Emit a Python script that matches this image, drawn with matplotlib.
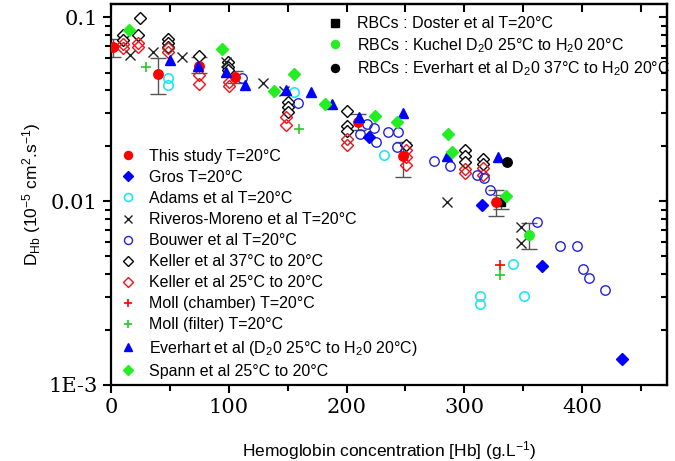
import numpy as np
import matplotlib
matplotlib.use("Agg")
import matplotlib.pyplot as plt
from matplotlib.ticker import FixedLocator, FixedFormatter, LogLocator, NullFormatter, MultipleLocator

# Datos (x en g/L, y en 1e-5 cm2/s)
este_x = [2, 40, 75, 105, 210, 248, 327]
este_y = [0.0687, 0.0489, 0.0541, 0.0475, 0.0268, 0.0175, 0.0099]
este_lo = [0.0605, 0.038, 0.0495, 0.044, 0.0243, 0.0136, 0.00834]
este_hi = [0.0759, 0.0598, 0.0605, 0.051, 0.0296, 0.0209, 0.01156]

gros_x = [219, 315, 366, 434]
gros_y = [0.0222, 0.00957, 0.00446, 0.00139]

adams_x = [48.6, 48.6, 155.5, 232, 313.5, 313.5, 341.6, 351]
adams_y = [0.0466, 0.0426, 0.039, 0.0179, 0.00305, 0.00276, 0.00457, 0.00305]

riveros_x = [16, 36, 60, 98, 129, 147, 285.5, 348, 348]
riveros_y = [0.062, 0.0644, 0.0605, 0.0569, 0.0437, 0.0395, 0.00985, 0.0072, 0.00589]

bouwer_x = [111, 159, 217, 223, 211.6, 225, 235, 243.6, 242.7, 274.4,
            287.5, 310.7, 317, 322, 361.7, 381.5, 395.6, 400.4, 406, 419.7]
bouwer_y = [0.0469, 0.034, 0.0264, 0.0249, 0.0232, 0.0209, 0.0239, 0.0239, 0.0196, 0.0166,
            0.0156, 0.0138, 0.0134, 0.01156, 0.00773, 0.00571, 0.00571, 0.0043, 0.0038, 0.0033]

keller37_x = [10, 10, 23, 25, 48.6, 48.6, 48.6, 75, 99, 99, 99, 150, 150, 150,
              200, 200, 200, 250.6, 300.8, 300.8, 300.8, 315.5, 315.5]
keller37_y = [0.0805, 0.075, 0.0798, 0.0996, 0.0766, 0.0728, 0.0689, 0.0616, 0.0569, 0.0537,
              0.0514, 0.0345, 0.0325, 0.0305, 0.0308, 0.0255, 0.0242, 0.0202, 0.019, 0.0177,
              0.0163, 0.017, 0.016]

keller25_x = [10, 10, 23, 23, 48.7, 48.7, 75, 75, 100, 100, 149, 149, 200, 200,
              250.6, 250.6, 250.6, 300.8, 300.8, 315.5, 315.5]
keller25_y = [0.0719, 0.068, 0.0724, 0.0689, 0.068, 0.0647, 0.0483, 0.0431, 0.0444, 0.0421,
              0.0287, 0.0258, 0.0218, 0.0203, 0.019, 0.0173, 0.0158, 0.0149, 0.0143, 0.0151, 0.0138]

moll_cam_x = [330.5]
moll_cam_y = [0.00451]

moll_fil_x = [30, 160, 330.5]
moll_fil_y = [0.0536, 0.0247, 0.00398]

everhart_x = [50, 74, 98, 114, 149, 170, 188, 211, 248, 285, 329]
everhart_y = [0.0583, 0.0541, 0.0503, 0.0426, 0.04, 0.0392, 0.0336, 0.0286, 0.0301, 0.0175, 0.0173]

spann_x = [15, 94.6, 138.8, 155, 182, 224, 242.7, 285.8, 289.4, 335.6]
spann_y = [0.085, 0.0675, 0.0397, 0.0489, 0.0339, 0.029, 0.0269, 0.0232, 0.0186, 0.0106]

# Globulos rojos
doster_x = [331]
doster_y = [0.0099]
doster_lo = [0.0091]
doster_hi = [0.0108]

kuchel_x = [355]
kuchel_y = [0.00656]
kuchel_lo = [0.00551]
kuchel_hi = [0.00764]

everhart_rbc_x = [336]
everhart_rbc_y = [0.0164]

plt.rcParams["font.family"] = ["Liberation Sans", "DejaVu Sans"]
plt.rcParams["mathtext.fontset"] = "custom"
plt.rcParams["mathtext.rm"] = "Liberation Sans"
plt.rcParams["mathtext.it"] = "Liberation Sans:italic"
plt.rcParams["mathtext.bf"] = "Liberation Sans:bold"

fig = plt.figure(figsize=(6.75, 4.61), dpi=100)
ax = fig.add_axes([0.1644, 0.1649, 0.8236, 0.8264])

ms = 6.8
ecol = "#555555"

# Barras de error
def barras(x, y, lo, hi, cap=6):
    y = np.array(y)
    err = [y - np.array(lo), np.array(hi) - y]
    ax.errorbar(x, y, yerr=err, fmt="none", ecolor=ecol, elinewidth=1.0, capsize=cap, capthick=1.0, zorder=2)

barras(este_x, este_y, este_lo, este_hi)
barras(doster_x, doster_y, doster_lo, doster_hi)
barras(kuchel_x, kuchel_y, kuchel_lo, kuchel_hi)

series = []
series.append(ax.plot(keller37_x, keller37_y, "D", ms=5.8, mfc="white", mec="black", mew=1.0, ls="none",
                      label="Keller et al 37°C to 20°C", zorder=3)[0])
series.append(ax.plot(keller25_x, keller25_y, "D", ms=5.8, mfc="none", mec="#e8141c", mew=1.0, ls="none",
                      label="Keller et al 25°C to 20°C", zorder=3)[0])
series.append(ax.plot(bouwer_x, bouwer_y, "o", ms=ms, mfc="none", mec="#2222dd", mew=1.0, ls="none",
                      label="Bouwer et al T=20°C", zorder=3)[0])
series.append(ax.plot(adams_x, adams_y, "o", ms=ms, mfc="none", mec="#22e6f0", mew=1.2, ls="none",
                      label="Adams et al T=20°C", zorder=3)[0])
series.append(ax.plot(riveros_x, riveros_y, "x", ms=7.5, color="#222222", mew=1.0, ls="none",
                      label="Riveros-Moreno et al T=20°C", zorder=3)[0])
series.append(ax.plot(este_x, este_y, "o", ms=ms, color="#ff0000", ls="none",
                      label="This study T=20°C", zorder=3.5)[0])
series.append(ax.plot(gros_x, gros_y, "D", ms=5.8, color="#0000ff", ls="none",
                      label="Gros T=20°C", zorder=4)[0])
series.append(ax.plot(moll_cam_x, moll_cam_y, "+", ms=7, color="#ff0000", mew=1.2, ls="none",
                      label="Moll (chamber) T=20°C", zorder=4)[0])
series.append(ax.plot(moll_fil_x, moll_fil_y, "+", ms=7, color="#22cc22", mew=1.2, ls="none",
                      label="Moll (filter) T=20°C", zorder=4)[0])
series.append(ax.plot(everhart_x, everhart_y, "^", ms=7.2, color="#0000ff", ls="none",
                      label="Everhart et al (D$_2$0 25°C to H$_2$0 20°C)", zorder=4)[0])
series.append(ax.plot(spann_x, spann_y, "D", ms=5.8, color="#22ee22", ls="none",
                      label="Spann et al 25°C to 20°C", zorder=4)[0])

rbc = []
rbc.append(ax.plot(doster_x, doster_y, "s", ms=6, color="black", ls="none",
                   label="RBCs : Doster et al T=20°C", zorder=3.4)[0])
rbc.append(ax.plot(kuchel_x, kuchel_y, "o", ms=ms, color="#22ee22", ls="none",
                   label="RBCs : Kuchel D$_2$0 25°C to H$_2$0 20°C", zorder=4)[0])
rbc.append(ax.plot(everhart_rbc_x, everhart_rbc_y, "o", ms=ms, color="black", ls="none",
                   label="RBCs : Everhart et al D$_2$0 37°C to H$_2$0 20°C", zorder=4)[0])

# Ejes
ax.set_yscale("log")
ax.set_xlim(0, 472)
ax.set_ylim(1e-3, 0.118)
ax.xaxis.set_major_locator(MultipleLocator(100))
ax.xaxis.set_minor_locator(MultipleLocator(50))
ax.yaxis.set_major_locator(FixedLocator([1e-3, 1e-2, 1e-1]))
ax.yaxis.set_major_formatter(FixedFormatter(["1E-3", "0.01", "0.1"]))
ax.yaxis.set_minor_locator(LogLocator(base=10, subs=np.arange(2, 10)))
ax.yaxis.set_minor_formatter(NullFormatter())
ax.tick_params(which="major", length=6, width=1.5, direction="out")
ax.tick_params(which="minor", length=4, width=1.5, direction="out")
for lab in ax.get_xticklabels() + ax.get_yticklabels():
    lab.set_family("DejaVu Serif")
    lab.set_fontsize(15)
for s in ax.spines.values():
    s.set_linewidth(1.6)

arriba = ax.secondary_xaxis("top")
arriba.xaxis.set_major_locator(MultipleLocator(50))
arriba.tick_params(direction="in", length=6, width=1.5, labeltop=False)
derecha = ax.secondary_yaxis("right")
derecha.yaxis.set_major_locator(FixedLocator([1e-3, 1e-2, 1e-1]))
derecha.yaxis.set_minor_locator(LogLocator(base=10, subs=np.arange(2, 10)))
derecha.tick_params(which="major", direction="in", length=6, width=1.5, labelright=False)
derecha.tick_params(which="minor", direction="in", length=4, width=1.5, labelright=False)
derecha.yaxis.set_minor_formatter(NullFormatter())
for sec in (arriba, derecha):
    for s in sec.spines.values():
        s.set_linewidth(1.6)

ax.set_xlabel("Hemoglobin concentration [Hb] (g.L$^{-1}$)", fontsize=12.5, labelpad=16)
ax.set_ylabel(r"D$_{\mathrm{Hb}}$ (10$^{-5}$ cm$^{2}$.s$^{-1}$)", fontsize=12.5, labelpad=4)

orden = ["This study T=20°C", "Gros T=20°C", "Adams et al T=20°C", "Riveros-Moreno et al T=20°C",
         "Bouwer et al T=20°C", "Keller et al 37°C to 20°C", "Keller et al 25°C to 20°C",
         "Moll (chamber) T=20°C", "Moll (filter) T=20°C",
         "Everhart et al (D$_2$0 25°C to H$_2$0 20°C)", "Spann et al 25°C to 20°C"]
por_nombre = {h.get_label(): h for h in series}
manejadores = [por_nombre[n] for n in orden]

leg1 = ax.legend(manejadores, orden, loc="lower left", bbox_to_anchor=(0.004, 0.0), frameon=False,
                 fontsize=11.5, handlelength=1.0, handletextpad=0.85, labelspacing=0.38, borderpad=0.4,
                 borderaxespad=0.0, markerscale=0.85)
ax.add_artist(leg1)
ax.legend(rbc, [h.get_label() for h in rbc], loc="upper left", bbox_to_anchor=(0.378, 0.985),
          frameon=False, fontsize=11.5, handlelength=1.0, handletextpad=0.85, labelspacing=0.3,
          borderpad=0.4, borderaxespad=0.0, markerscale=0.85)

fig.savefig("out.png", dpi=100)
